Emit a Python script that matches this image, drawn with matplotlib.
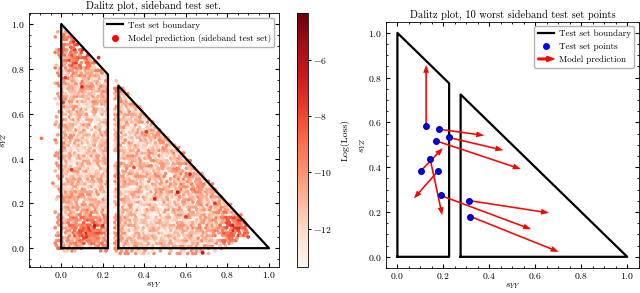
import matplotlib
matplotlib.use("Agg")
import matplotlib.pyplot as plt
import matplotlib.patches as mpatches
from matplotlib.lines import Line2D
from matplotlib.legend_handler import HandlerPatch
import numpy as np

plt.rcParams['font.family'] = 'serif'
plt.rcParams['font.serif'] = ['cmr10']
plt.rcParams['mathtext.fontset'] = 'cm'
plt.rcParams['axes.formatter.use_mathtext'] = True
plt.rcParams['font.size'] = 7
plt.rcParams['xtick.direction'] = 'in'
plt.rcParams['ytick.direction'] = 'in'
plt.rcParams['xtick.top'] = True
plt.rcParams['ytick.right'] = True
plt.rcParams['xtick.minor.visible'] = True
plt.rcParams['ytick.minor.visible'] = True
plt.rcParams['xtick.major.size'] = 3
plt.rcParams['ytick.major.size'] = 3
plt.rcParams['xtick.minor.size'] = 1.5
plt.rcParams['ytick.minor.size'] = 1.5
plt.rcParams['xtick.major.pad'] = 2.5
plt.rcParams['ytick.major.pad'] = 3
plt.rcParams['axes.linewidth'] = 0.6

# boundary of the test set (two pieces of the Dalitz triangle)
left_x = [0.0, 0.0, 0.225, 0.225, 0.0]
left_y = [0.0, 1.0, 0.775, 0.0, 0.0]
right_x = [0.275, 0.275, 1.0, 0.275]
right_y = [0.0, 0.725, 0.0, 0.0]

# regions of high loss seen in the left panel (centre, radius, strength)
hot_x = [0.08, 0.13, 0.84, 0.00, 0.62, 0.27, 0.45, 0.10]
hot_y = [0.87, 0.08, 0.09, 0.50, 0.30, 0.70, 0.12, 0.45]
hot_r = [0.06, 0.06, 0.05, 0.03, 0.10, 0.03, 0.12, 0.10]
hot_a = [2.6, 2.6, 3.0, 1.0, 0.5, 0.8, -0.7, -0.6]
base_loss = -11.1

# single dark points
dark_x = [0.06, 0.18, 0.02, 0.01, 0.10, 0.05, 0.20, 0.12, 0.16, 0.62, 0.68,
          0.45, 0.90, 0.56, 0.35, 0.60, 0.41, 0.74, -0.095, -0.04, -0.01]
dark_y = [0.92, 0.85, 0.76, 0.65, 0.72, 0.35, 0.10, 0.05, 0.10, 0.33, -0.02,
          0.22, 0.05, 0.25, 0.36, 0.14, 0.52, 0.20, 0.49, 0.29, 0.0]
dark_v = [-7.5, -7.0, -7.5, -8.0, -7.0, -7.5, -7.0, -7.5, -6.5, -7.0, -6.5,
          -7.0, -8.0, -6.0, -8.0, -7.5, -7.5, -7.5, -9.0, -9.5, -8.5]

# colour grain of the sample (nan = empty spot)
grain = [0.0, 1.0, -0.9, 0.4, np.nan, -1.3, 0.6, -0.4, 1.2, -0.7, 0.2,
         np.nan, -1.5, 0.8, -0.2, np.nan, 1.5]

# worst sideband test points and their predictions
pts_x = [0.125, 0.180, 0.223, 0.168, 0.142, 0.103, 0.178, 0.188, 0.313, 0.318]
pts_y = [0.585, 0.570, 0.533, 0.518, 0.439, 0.385, 0.385, 0.274, 0.251, 0.180]
pred_x = [0.125, 0.378, 0.461, 0.537, 0.195, 0.198, 0.072, 0.582, 0.660, 0.702]
pred_y = [0.857, 0.542, 0.476, 0.392, 0.186, 0.486, 0.261, 0.123, 0.196, 0.022]

vmin, vmax = -13.35, -4.35

# positions of the sideband sample (dense fill of the two regions)
xs = np.arange(-0.035, 0.92, 0.0125)
ys = np.arange(-0.035, 1.0, 0.0115)
gx, gy = np.meshgrid(xs, ys)
ii, jj = np.meshgrid(np.arange(len(xs)), np.arange(len(ys)))
gx = gx + 0.00625 * (jj % 2)
gx = gx.ravel()
gy = gy.ravel()
gk = (((ii * 73856093) ^ (jj * 19349663)) % len(grain)).ravel()
in_left = (gx >= -0.03) & (gx <= 0.222) & (gy >= -0.02) & (gy <= 0.99 - gx)
in_right = ((gx >= 0.258) & (gx <= 0.905) & (gy <= 1.015 - gx)
            & (gy >= -0.03 + 0.5 * np.clip(gx - 0.72, 0, None)))
outside = (gx < 0) | (gy < 0) | ((gx > 0.275) & (gy > 1 - gx))
keep = (in_left | in_right) & ~(outside & (gk % 3 != 0))
gx = gx[keep]
gy = gy[keep]
gk = gk[keep]
outside = outside[keep]
loss = np.full(gx.shape, base_loss)
for hx, hy, hr, ha in zip(hot_x, hot_y, hot_r, hot_a):
    loss += ha * np.exp(-((gx - hx) ** 2 + (gy - hy) ** 2) / (2 * hr ** 2))
loss[outside] += 1.0
loss += np.array(grain)[gk]
ok = ~np.isnan(loss)

fig = plt.figure(figsize=(6.4, 2.93), dpi=100)
ax1 = fig.add_axes([0.0453, 0.0887, 0.3906, 0.8669])
cax = fig.add_axes([0.464, 0.0887, 0.0177, 0.8669])
ax2 = fig.add_axes([0.603, 0.0853, 0.395, 0.8406])

sc = ax1.scatter(gx[ok], gy[ok], c=loss[ok], cmap='Reds', vmin=vmin, vmax=vmax,
                 s=7, linewidths=0, zorder=1)
ax1.scatter(dark_x, dark_y, c=dark_v, cmap='Reds', vmin=vmin, vmax=vmax, s=7,
            linewidths=0, zorder=1.5)
ax1.plot(left_x, left_y, color='black', lw=1.6, zorder=2)
ax1.plot(right_x, right_y, color='black', lw=1.6, zorder=2)
ax1.set_xlim(-0.155, 1.048)
ax1.set_ylim(-0.084, 1.049)
ax1.set_xticks([0.0, 0.2, 0.4, 0.6, 0.8, 1.0])
ax1.set_yticks([0.0, 0.2, 0.4, 0.6, 0.8, 1.0])
ax1.set_xlabel('$s_{YY}$', labelpad=0)
ax1.set_ylabel('$s_{YZ}$', labelpad=1.5)
ax1.set_title('Dalitz plot, sideband test set.', fontsize=7.5, pad=3)
h1 = [Line2D([], [], color='black', lw=1.6),
      Line2D([], [], color='red', marker='o', ls='', ms=4)]
ax1.legend(h1, ['Test set boundary', 'Model prediction (sideband test set)'],
           loc='upper right', fontsize=6.5, framealpha=1, edgecolor='0.7',
           handlelength=1.8, handletextpad=0.5)

cb = fig.colorbar(sc, cax=cax)
cb.set_label('Log(Loss)', labelpad=6)
cb.set_ticks([-12, -10, -8, -6])
cb.outline.set_linewidth(0.6)
cax.minorticks_off()
cax.tick_params(right=True, left=False, direction='out', length=2, pad=1.5)

ax2.plot(left_x, left_y, color='black', lw=1.6)
ax2.plot(right_x, right_y, color='black', lw=1.6)
for x0, y0, x1, y1 in zip(pts_x, pts_y, pred_x, pred_y):
    ax2.arrow(x0, y0, x1 - x0, y1 - y0, width=0.007, head_width=0.026,
              head_length=0.035, length_includes_head=True, color='red', lw=0,
              zorder=3)
ax2.plot(pts_x, pts_y, 'o', color='blue', mec='#0000aa', ms=4, zorder=4)
ax2.set_xlim(-0.05, 1.05)
ax2.set_ylim(-0.05, 1.05)
ax2.set_xticks([0.0, 0.2, 0.4, 0.6, 0.8, 1.0])
ax2.set_yticks([0.0, 0.2, 0.4, 0.6, 0.8, 1.0])
ax2.set_xlabel('$s_{YY}$', labelpad=0)
ax2.set_ylabel('$s_{YZ}$', labelpad=0)
ax2.set_title('Dalitz plot, 10 worst sideband test set points', fontsize=7.5, pad=3)


def make_arrow(legend, orig_handle, xdescent, ydescent, width, height, fontsize):
    return mpatches.FancyArrow(0, 0.5 * height, width, 0, length_includes_head=True,
                               width=0.25 * height, head_width=0.8 * height,
                               head_length=0.45 * width, color='red', lw=0)


arrow_h = mpatches.FancyArrow(0, 0, 1, 0, color='red')
h2 = [Line2D([], [], color='black', lw=1.6),
      Line2D([], [], color='blue', marker='o', ls='', ms=4),
      arrow_h]
ax2.legend(h2, ['Test set boundary', 'Test set points', 'Model prediction'],
           loc='upper right', fontsize=6.5, framealpha=1, edgecolor='0.7',
           handlelength=1.8, handletextpad=0.5,
           handler_map={mpatches.FancyArrow: HandlerPatch(patch_func=make_arrow)})

fig.savefig('out.png', dpi=100)
